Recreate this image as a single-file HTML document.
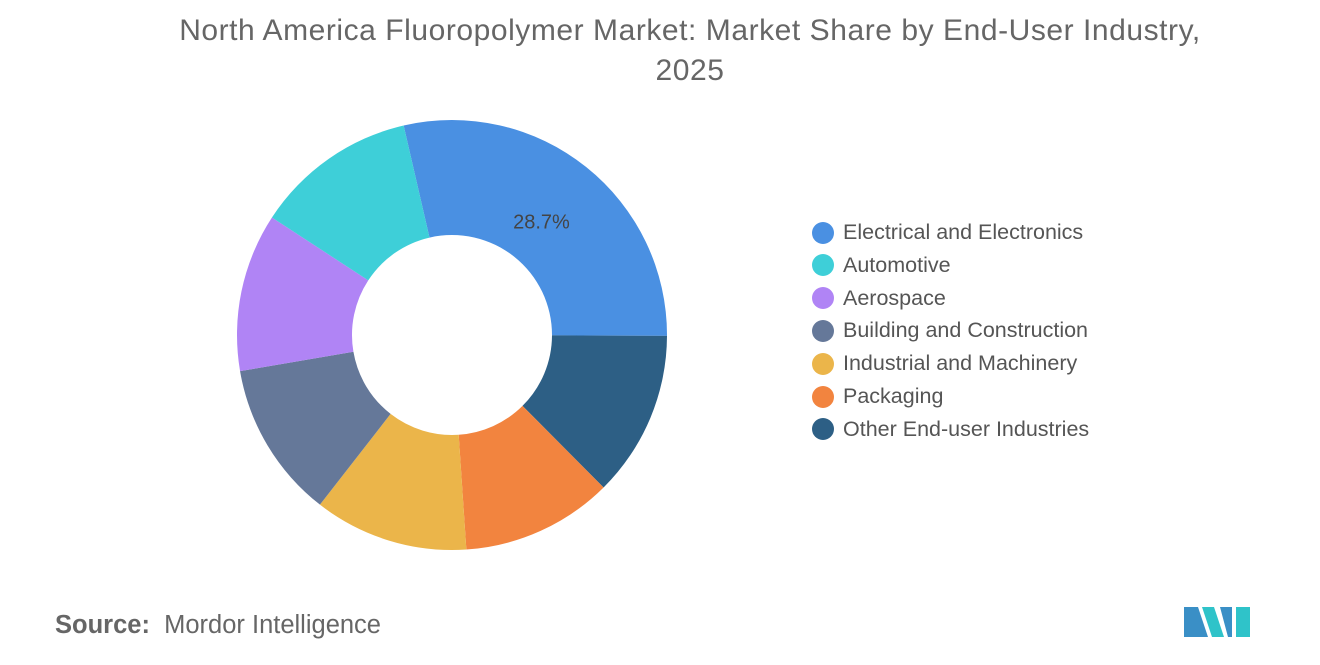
<!DOCTYPE html>
<html><head><meta charset="utf-8"><style>
body{margin:0;width:1320px;height:665px;background:#fff;font-family:"Liberation Sans",sans-serif;overflow:hidden;position:relative}
.title{position:absolute;left:0;width:1380px;top:11px;text-align:center;font-size:30px;line-height:40px;color:#666;letter-spacing:0.55px}
.leg{position:absolute;left:812px;font-size:21.5px;color:#555;display:flex;align-items:center}
.leg span.d{width:22px;height:22px;border-radius:50%;display:inline-block;margin-right:9px}
.src{position:absolute;left:55px;top:611px;font-size:25.5px;color:#666}
</style></head><body>
<div class="title">North America Fluoropolymer Market: Market Share by End-User Industry,<br>2025</div>
<svg id="chart" width="1320" height="665" style="position:absolute;left:0;top:0"></svg>
<div id="legend"></div>
<div class="src"><b style="font-weight:600">Source:</b>&nbsp; Mordor Intelligence</div>
<svg width="70" height="36" style="position:absolute;left:1184px;top:603px">
<polygon points="0,34 0,4 14,4 24,34" fill="#3a8fc6"/><polygon points="18,4 30,4 40,34 28,34" fill="#2fc3c9"/><polygon points="36,4 48,4 48,34 44,34" fill="#3a8fc6"/><polygon points="52,4 66,4 66,34 52,34" fill="#2fc3c9"/>
</svg>
<script>
const categories=["Electrical and Electronics","Other End-user Industries","Packaging","Industrial and Machinery","Building and Construction","Aerospace","Automotive"];
const values=[28.7,12.5,11.4,11.6,11.8,11.9,12.2];
const colors=["#4a90e2","#2d5f85","#f2843f","#ebb54a","#657899","#b084f5","#3ecfd8"];
const legendOrder=["Electrical and Electronics","Automotive","Aerospace","Building and Construction","Industrial and Machinery","Packaging","Other End-user Industries"];
const cx=452,cy=335,R=215,r=100,start=-13;
const svg=document.getElementById('chart');const ns="http://www.w3.org/2000/svg";
const total=values.reduce((a,b)=>a+b,0);
function pt(a,rad){const t=(a-90)*Math.PI/180;return [cx+rad*Math.cos(t),cy+rad*Math.sin(t)];}
let a=start;
values.forEach((v,i)=>{const sw=v/total*360;const a2=a+sw;const lg=sw>180?1:0;
const p1=pt(a,R),p2=pt(a2,R),p3=pt(a2,r),p4=pt(a,r);
const p=document.createElementNS(ns,'path');
p.setAttribute('d',`M${p1}A${R},${R} 0 ${lg} 1 ${p2}L${p3}A${r},${r} 0 ${lg} 0 ${p4}Z`);
p.setAttribute('fill',colors[i]);


svg.appendChild(p);
if(i===0){const m=pt(a+sw/2,145);const t=document.createElementNS(ns,'text');t.setAttribute('x',m[0]-1);t.setAttribute('y',m[1]+7);t.setAttribute('text-anchor','middle');t.setAttribute('font-size','20');t.setAttribute('fill','#444');t.textContent=v.toFixed(1)+'%';


svg.appendChild(t);}
a=a2;});
const lg=document.getElementById('legend');
legendOrder.forEach((c,i)=>{const d=document.createElement('div');d.className='leg';d.style.top=(220+i*32.8)+'px';
d.innerHTML=`<span class="d" style="background:${colors[categories.indexOf(c)]}"></span>${c}`;


lg.appendChild(d);});
</script>
</body></html>
